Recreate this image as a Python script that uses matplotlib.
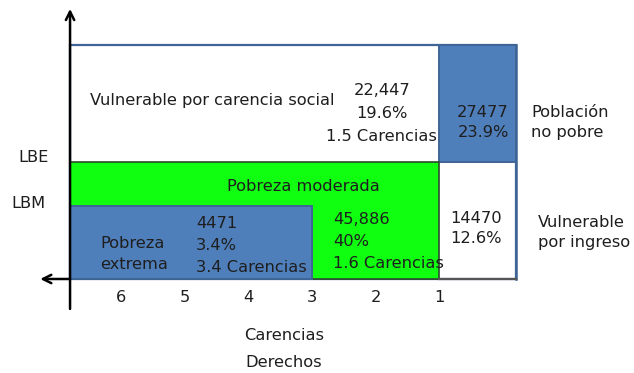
import matplotlib
matplotlib.use("Agg")
import matplotlib.pyplot as plt
from matplotlib.patches import Rectangle

# Grupos de la población (miles de personas, % y carencias promedio)
grupos = ["Vulnerable por carencia social", "Población\nno pobre", "Pobreza moderada",
          "Pobreza\nextrema", "Vulnerable\npor ingreso"]
personas = ["22,447", "27477", "45,886", "4471", "14470"]
porcentajes = [19.6, 23.9, 40, 3.4, 12.6]
carencias_prom = [1.5, None, 1.6, 3.4, None]

# Ejes: número de carencias (derechos) e ingreso (líneas de bienestar)
carencias_ticks = [6, 5, 4, 3, 2, 1]
umbral_carencias = [1, 3]
lineas_bienestar = ["LBM", "LBE"]
nivel_lineas = [1.0, 1.6]

AZUL = "#4f7fbb"
AZUL_BORDE = "#3f6496"
VERDE = "#10ff10"
TEXTO = "#1e1e1e"
FS = 11.7

# limites del diagrama
x_izq, x_der = 6.81, -0.213
y_sup = 3.2
lbm, lbe = nivel_lineas
c1, c3 = umbral_carencias

fig = plt.figure(figsize=(6.34, 3.73), dpi=100)
ax = fig.add_axes([0, 0, 1, 1])
ax.set_xlim(7.913, -2.071)
ax.set_ylim(-1.288, 3.822)
ax.axis("off")

# recuadro exterior
ax.add_patch(Rectangle((x_der, 0), x_izq - x_der, y_sup, facecolor="white",
                       edgecolor=AZUL_BORDE, lw=1.6, zorder=1))
# población no pobre
ax.add_patch(Rectangle((x_der, lbe), c1 - x_der, y_sup - lbe, facecolor=AZUL,
                       edgecolor=AZUL_BORDE, lw=1.4, zorder=2))
# pobreza moderada (verde) y extrema (azul encima)
ax.add_patch(Rectangle((c1, 0), x_izq - c1, lbe, facecolor=VERDE,
                       edgecolor="#2c4a2c", lw=1.2, zorder=2))
ax.add_patch(Rectangle((c3, 0), x_izq - c3, lbm, facecolor=AZUL,
                       edgecolor=AZUL_BORDE, lw=1.4, zorder=3))
# borde derecho sobre los rellenos
ax.plot([x_der, x_der], [0, y_sup], color=AZUL_BORDE, lw=1.8, zorder=4)
ax.plot([x_der, c1], [0, 0], color="#555555", lw=1.6, zorder=4)

# ejes con flechas
ax.annotate("", xy=(x_izq, 3.70), xytext=(x_izq, -0.41),
            arrowprops=dict(arrowstyle="->", lw=1.8, color="black",
                            mutation_scale=15, shrinkA=0, shrinkB=0), zorder=5)
ax.annotate("", xy=(7.28, 0), xytext=(x_izq, 0),
            arrowprops=dict(arrowstyle="->", lw=1.8, color="black",
                            mutation_scale=15, shrinkA=0, shrinkB=0), zorder=5)

txt = dict(color=TEXTO, fontsize=FS, zorder=6)


def pct(p):
    return f"{p:g}%"


# vulnerable por carencia social
ax.text(6.50, 2.45, grupos[0], ha="left", va="center", **txt)
ax.text(1.90, 2.27, f"{personas[0]}\n{pct(porcentajes[0])}\n{carencias_prom[0]} Carencias",
        ha="center", va="center", multialignment="center", linespacing=1.65, **txt)
# no pobre
ax.text(-0.10, 2.14, f"{personas[1]}\n{pct(porcentajes[1])}", ha="right", va="center",
        multialignment="right", linespacing=1.4, **txt)
ax.text(-0.45, 2.14, grupos[1], ha="left", va="center", linespacing=1.4, **txt)
# pobreza moderada
ax.text(3.14, 1.27, grupos[2], ha="center", va="center", **txt)
ax.text(2.67, 0.51, f"{personas[2]}\n{pct(porcentajes[2])}\n{carencias_prom[2]} Carencias",
        ha="left", va="center", linespacing=1.6, **txt)
# pobreza extrema
ax.text(4.83, 0.46, f"{personas[3]}\n{pct(porcentajes[3])}\n{carencias_prom[3]} Carencias",
        ha="left", va="center", linespacing=1.6, **txt)
ax.text(6.34, 0.34, grupos[3], ha="left", va="center", linespacing=1.46, **txt)
# vulnerable por ingreso
ax.text(0.01, 0.69, f"{personas[4]}\n{pct(porcentajes[4])}", ha="right", va="center",
        multialignment="right", linespacing=1.4, **txt)
ax.text(-0.56, 0.64, grupos[4], ha="left", va="center", linespacing=1.46, **txt)

# líneas de bienestar
ax.text(7.39, lbe + 0.06, lineas_bienestar[1], ha="center", va="center", **txt)
ax.text(7.46, lbm + 0.04, lineas_bienestar[0], ha="center", va="center", **txt)

# marcas del eje de carencias
for c in carencias_ticks:
    ax.text(c, -0.25, str(c), ha="center", va="center", **txt)
ax.text(3.44, -0.77, "Carencias", ha="center", va="center", **txt)
ax.text(3.44, -1.14, "Derechos", ha="center", va="center", **txt)

fig.savefig("out.png", dpi=100)
